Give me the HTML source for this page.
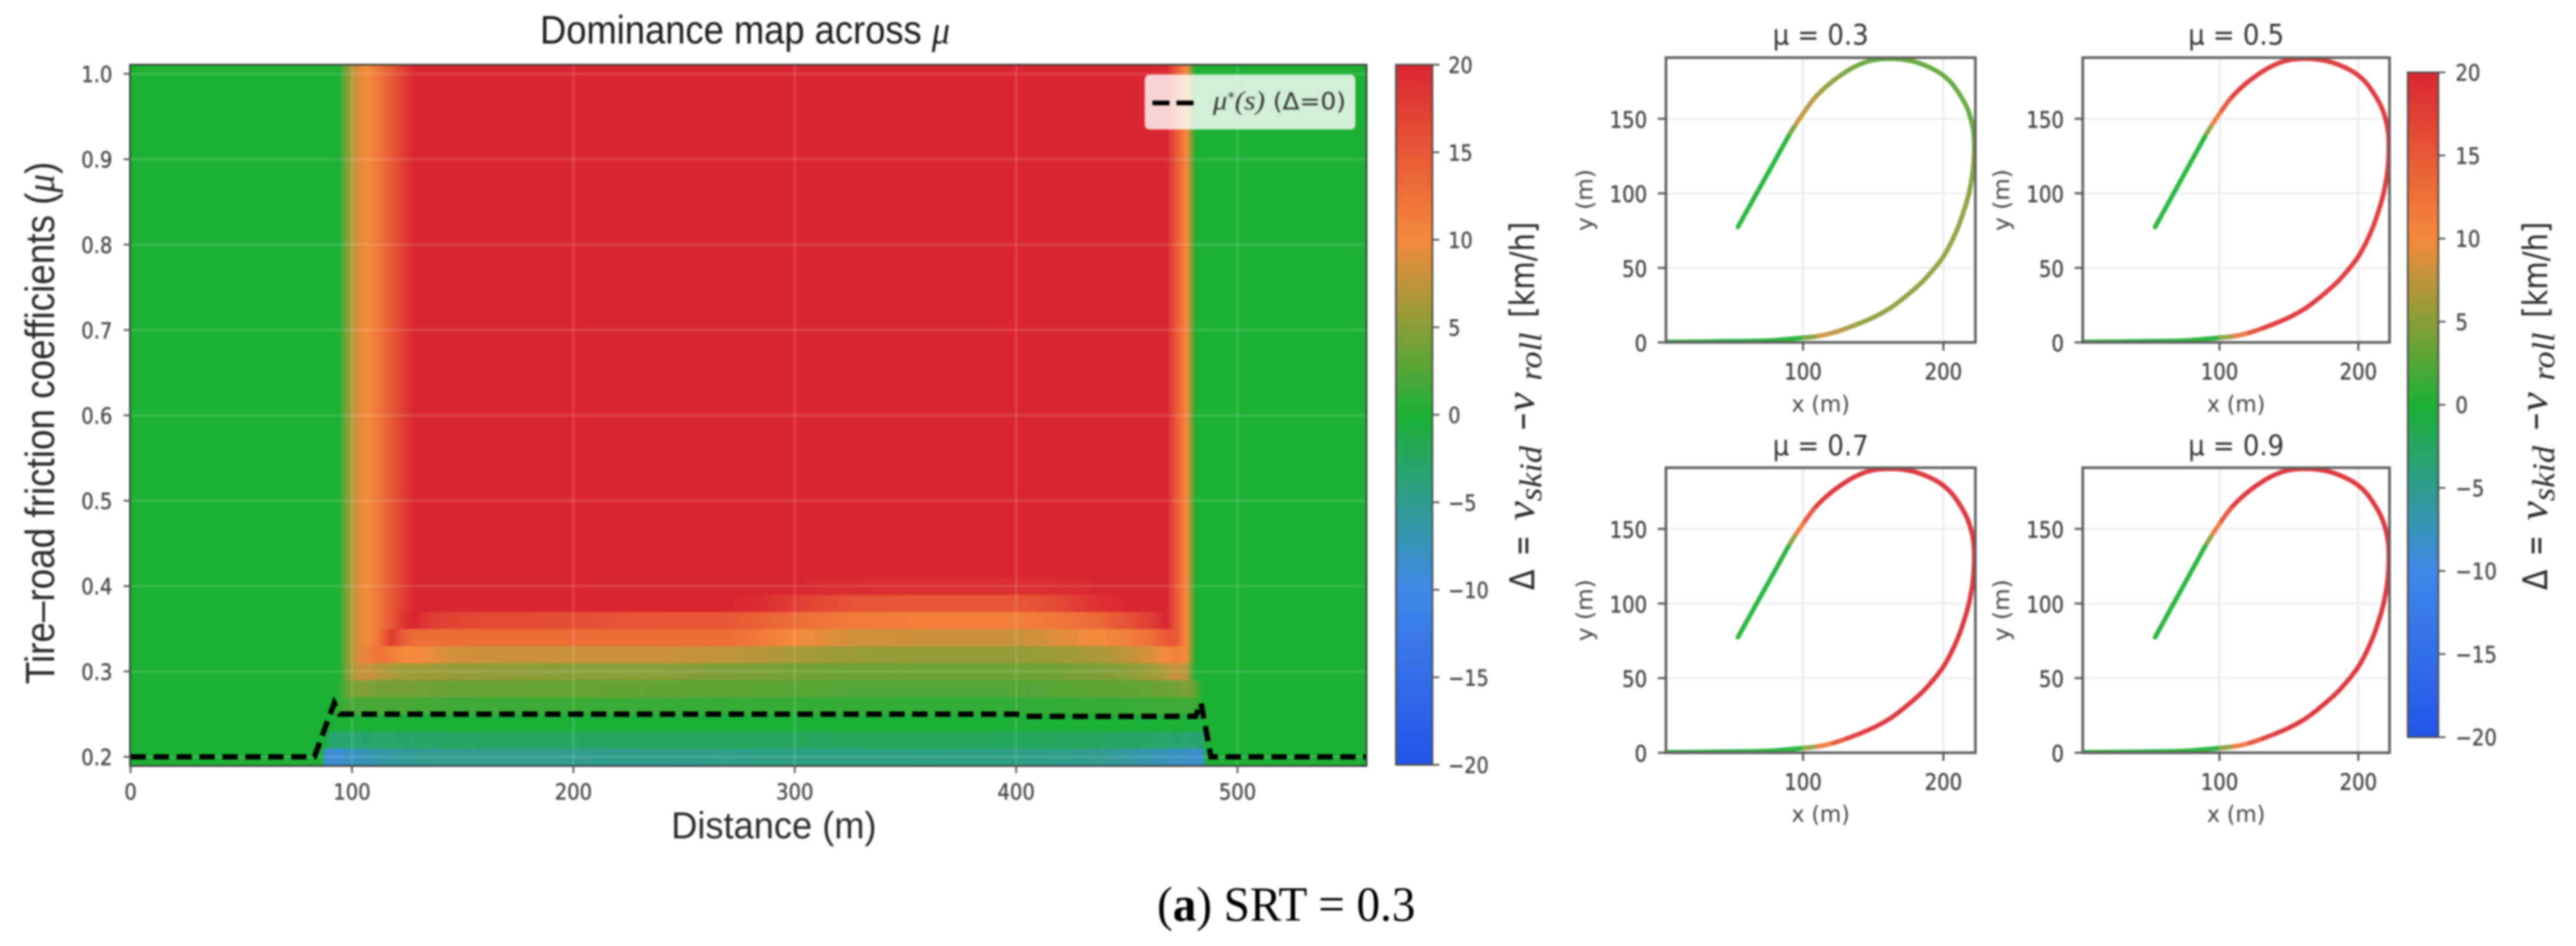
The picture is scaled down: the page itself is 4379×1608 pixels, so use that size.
<!DOCTYPE html>
<html lang="en">
<head>
<meta charset="utf-8">
<title>Dominance map across mu</title>
<style>
html,body{margin:0;padding:0;background:#fff;width:4379px;height:1608px;overflow:hidden}
svg{display:block;filter:blur(1.5px)}
text{font-family:"DejaVu Sans","Liberation Sans",sans-serif}
.ar{font-family:"Liberation Sans",sans-serif}
.se{font-family:"Liberation Serif",serif}
</style>
</head>
<body>
<svg id="fig" xmlns="http://www.w3.org/2000/svg" width="4379" height="1608" viewBox="0 0 4379 1608">
  <defs id="defs"></defs>
  <rect width="4379" height="1608" fill="#fff"/>
  <g id="heatmap"></g>
  <g id="heat-grid"></g>
  <g id="mu-line-layer"></g>
  <g id="heat-axes"></g>
  <g id="cb1"></g>
  <g id="panels"></g>
  <g id="cb2"></g>

  <text class="ar" x="918" y="74" font-size="68" fill="#1c1c1c" textLength="697" lengthAdjust="spacingAndGlyphs">Dominance map across <tspan class="se" font-style="italic">μ</tspan></text>
  <text class="ar" transform="translate(92,1163) rotate(-90)" font-size="70" fill="#2a2a2a" textLength="888" lengthAdjust="spacingAndGlyphs">Tire–road friction coefficients (<tspan class="se" font-style="italic">μ</tspan>)</text>
  <text class="ar" x="1141" y="1425" font-size="64" fill="#2a2a2a" textLength="349" lengthAdjust="spacingAndGlyphs">Distance (m)</text>

  <g>
    <rect x="1946" y="127" width="358" height="93" rx="8" fill="#fff" fill-opacity="0.8"/>
    <line x1="1959" y1="175" x2="2029" y2="175" stroke="#000" stroke-width="8" stroke-dasharray="29 12"/>
    <text x="2062" y="186" font-size="40" fill="#333" textLength="226" lengthAdjust="spacingAndGlyphs"><tspan class="se" font-style="italic" font-size="46">μ</tspan><tspan dy="-12" font-size="24">*</tspan><tspan dy="12" class="se" font-style="italic" font-size="46">(s)</tspan> (Δ=0)</text>
  </g>

  <text class="se" x="1967" y="1565" font-size="84" fill="#000" textLength="439" lengthAdjust="spacingAndGlyphs">(<tspan font-weight="bold">a</tspan>) SRT = 0.3</text>
</svg>
<script>
/* ---------- heatmap data ---------- */
const distanceKnots = [0,86,88,90,92,94,98,102,107,112,118,124,128,135,145,160,200,240,270,285,300,325,360,400,420,437,450,462,468,472,477,481,484,486,558];
const rowHigh = [0,0,0,0,0,0,5,8.5,10,12,15,18,20,20,20,20,20,20,20,20,20,20,20,20,20,20,20,20,20,15,10,0,0,0,0];
const row040 = [0,0,0,0,0,0,5,8.5,10,12,15,18,20,20,20,20,20,20,20,20,20,19.5,19,19,19.5,20,20,20,20,15,10,0,0,0,0];
const row038 = [0,0,0,0,0,0,5,8.5,10,12,15,18,20,20,20,20,20,20,20,19.5,17.5,15.5,15,15,16.5,19,20,20,20,15,10,0,0,0,0];
const row036 = [0,0,0,0,0,0,5,8.5,10,12,15,19,20,18,17,16.5,16,15,15,14,13,11.5,11,11,12,13.5,15.5,18,20,15,10,0,0,0,0];
const row034 = [0,0,0,0,0,0,5,8.5,10,12,18,14,13,13,13,13,13,13,13,11.5,10,8.5,8,8,9,10,11,13,15,15,10,0,0,0,0];
const row032 = [0,0,0,0,0,0,5,8.5,11,12.5,11,10,10,9.5,8.5,8,8,8,7.5,7,6.5,5.7,5.5,5.5,6,6.5,7.5,9,10,11,10,0,0,0,0];
const row030 = [0,0,0,0,0,0,5,7.5,8,7,6.5,6,6,6,5.5,5.5,5,5,4.5,4.2,4,3.8,3.7,3.7,4,4.5,5,6,7,8,7,0,0,0,0];
const row028 = [0,0,0,0,0,0.5,3.5,4.5,4.5,4,4,4,4,3.8,3.6,3.5,3.5,3.3,3,2.9,2.8,2.5,2.5,2.5,2.7,3,3.2,3.5,3.8,4,4.5,3,0,0,0];
const row026 = [0,0,0,0,0,1,2,2,2,2,2,2,2,1.8,1.7,1.5,1.4,1.3,1.2,1.2,1.2,1.1,1,1,1.1,1.2,1.3,1.4,1.5,1.5,1.5,1.5,0,0,0];
const row024 = [0,0,0,0,-0.3,-0.3,-0.3,-0.3,-0.3,-0.3,-0.3,-0.3,-0.3,-0.3,-0.3,-0.3,-0.3,-0.3,-0.3,-0.3,-0.3,-0.3,-0.3,-0.3,-0.3,-0.3,-0.3,-0.3,-0.3,-0.3,-0.3,-0.3,-0.3,0,0];
const row022 = [0,0,0,-3.2,-3.2,-3.2,-3.2,-3.2,-3.1,-3,-3,-2.9,-2.8,-2.7,-2.6,-2.5,-2.5,-2.5,-2.5,-2.4,-2.4,-2.3,-2.3,-2.3,-2.4,-2.5,-2.6,-2.8,-3,-3.1,-3.2,-3.3,-3.3,0,0];
const row020 = [0,0,-8.5,-9,-9,-8.8,-8,-7.5,-7,-6.5,-6,-5.5,-5.3,-5,-5,-5,-5,-4.8,-4.6,-4.5,-4.5,-4.4,-4.3,-4.5,-4.7,-5,-6,-7,-7.5,-7.8,-8,-8.3,-8.5,0,0];
const muLevels = [0.20,0.22,0.24,0.26,0.28,0.30,0.32,0.34,0.36,0.38,0.40,0.42,0.44,0.46,0.48,0.50,0.52,0.54,0.56,0.58,0.60,0.62,0.64,0.66,0.68,0.70,0.72,0.74,0.76,0.78,0.80,0.82,0.84,0.86,0.88,0.90,0.92,0.94,0.96,0.98,1.00];
const deltaRows = [row020,row022,row024,row026,row028,row030,row032,row034,row036,row038,row040,rowHigh,rowHigh,rowHigh,rowHigh,rowHigh,rowHigh,rowHigh,rowHigh,rowHigh,rowHigh,rowHigh,rowHigh,rowHigh,rowHigh,rowHigh,rowHigh,rowHigh,rowHigh,rowHigh,rowHigh,rowHigh,rowHigh,rowHigh,rowHigh,rowHigh,rowHigh,rowHigh,rowHigh,rowHigh,rowHigh];
const muStarS = [0,83,92,94.5,200,300,400,404,481,483.5,488,558];
const muStarValues = [0.2,0.2,0.263,0.25,0.25,0.25,0.25,0.2475,0.2475,0.263,0.2,0.2];
const distanceTicks = [0,100,200,300,400,500];
const muTicks = [0.2,0.3,0.4,0.5,0.6,0.7,0.8,0.9,1.0];
const muTickLabels = ["0.2","0.3","0.4","0.5","0.6","0.7","0.8","0.9","1.0"];
const colorbarTicks = [-20,-15,-10,-5,0,5,10,15,20];
const colorbarLabels = ["−20","−15","−10","−5","0","5","10","15","20"];

/* ---------- trajectory data ---------- */
const trackX = [3,30,50,75,100.7,110.5,121.6,131.4,141.1,150.9,162.1,173.2,184.4,192.7,199.7,205.3,210.9,214.5,217.4,219.5,221,221.8,222,221.5,219.7,216.8,212.3,205.3,196.9,187.2,176,162.1,148.1,137,125.8,116,107.7,100,93.7,89.5,82,72,63,53.6];
const trackY = [0.3,0.5,0.8,1.2,3.2,4.2,6.5,9.6,13.1,17.1,23,30.9,40.1,48.7,57.2,66.5,78.3,88,97,106,115,124,132,141,149.5,157.5,165.3,174.5,181.1,185.7,189,190.3,189,185,178.5,171.2,163.3,153.4,144.6,138.1,125.4,108.5,93.3,77.4];
const deltaMu03 = [0,0,0,0,0,8,8,6.5,5.5,5,5,5,5,5,5,5,5,5,5,4.5,4.5,4.5,4,3.5,3,3,3,3,3,3,3,3,3,3.5,4.5,5.5,6.5,7.5,8,0,0,0,0,0];
const deltaMu05 = [0,0,0,0,0,10.5,15,18,19,19,19,19,19,19,19,19,19,19,19,19,19,19,19,19,19,19,19,19,19,19,19,19,19,19,19,19,18,14,10,0,0,0,0,0];
const deltaMu07 = [0,0,0,0,0,10,14,17.5,19,19.5,19.5,19.5,19.5,19.5,19.5,19.5,19.5,19.5,19.5,19.5,19.5,19.5,19.5,19.5,19.5,19.5,19.5,19.5,19.5,19.5,19.5,19.5,19.5,19.5,19.5,19.5,18,14,10,0,0,0,0,0];
const deltaMu09 = [0,0,0,0,0,10,14,17.5,19,19.5,19.5,19.5,19.5,19.5,19.5,19.5,19.5,19.5,19.5,19.5,19.5,19.5,19.5,19.5,19.5,19.5,19.5,19.5,19.5,19.5,19.5,19.5,19.5,19.5,19.5,19.5,18,14,10,0,0,0,0,0];
const panelTitles = ["μ = 0.3","μ = 0.5","μ = 0.7","μ = 0.9"];
const panelDeltas = [deltaMu03,deltaMu05,deltaMu07,deltaMu09];
const xTicksPanel = [100,200];
const yTicksPanel = [0,50,100,150];

/* ---------- helpers ---------- */
const NS = "http://www.w3.org/2000/svg";
const byId = id => document.getElementById(id);
function node(parent, tag, props, name) {
  const el = document.createElementNS(NS, tag);
  for (const k in props) el.setAttribute(k, props[k]);
  
  
  parent.appendChild(el);
  return el;
}
const cmapKeys = [-20,-10,0,10,20];
const cmapRgb = [[33,85,233],[64,136,232],[28,177,52],[245,138,59],[218,38,49]];
function cmap(v) {
  const d = Math.max(-20, Math.min(20, v));
  let i = 0;
  while (i < cmapKeys.length - 2 && d > cmapKeys[i + 1]) i++;
  const t = (d - cmapKeys[i]) / (cmapKeys[i + 1] - cmapKeys[i]);
  const c = cmapRgb[i].map((a, j) => Math.round(a + (cmapRgb[i + 1][j] - a) * t));
  return "rgb(" + c.join(",") + ")";
}
const glyphW = {".":0.318,"−":0.838," ":0.318};
function tickText(parent, x, y, str, size, squeeze, anchor, fill, name) {
  let w = 0;
  for (const ch of str) w += (glyphW[ch] || 0.636);
  const el = node(parent, "text", {x:x, y:y, "font-size":size, "text-anchor":anchor, fill:fill,
    stroke:fill, "stroke-width":0.7,
    textLength:(w * size * squeeze).toFixed(1), lengthAdjust:"spacingAndGlyphs"}, name);
  el.textContent = str;
  return el;
}

/* ---------- heatmap ---------- */
const heatBox = {left:222, right:2322, top:111, bottom:1301};
const sx = s => heatBox.left + (s - 0) / 558 * (heatBox.right - heatBox.left);
const sy = m => heatBox.bottom - (m - 0.19) / 0.82 * (heatBox.bottom - heatBox.top);
(function drawHeatmap() {
  const defs = byId("defs"), g = byId("heatmap");
  const span = distanceKnots[distanceKnots.length - 1];
  muLevels.forEach((mu, r) => {
    const gr = node(defs, "linearGradient", {id:"heat-row-" + r, gradientUnits:"userSpaceOnUse",
      x1:sx(0), y1:0, x2:sx(span), y2:0}, "heat-row-gradient");
    deltaRows[r].forEach((v, c) => {
      node(gr, "stop", {offset:(distanceKnots[c] / span).toFixed(5), "stop-color":cmap(v)}, "heat-row-stop");
    });
    const top = sy(mu + 0.01), bot = sy(mu - 0.01);
    node(g, "rect", {x:sx(0), y:top - 0.5, width:sx(span) - sx(0), height:bot - top + 1,
      fill:"url(#heat-row-" + r + ")"}, "heat-row-mu-" + mu.toFixed(2));
  });
  const grid = byId("heat-grid");
  distanceTicks.slice(1).forEach(t => {
    node(grid, "line", {x1:sx(t), x2:sx(t), y1:heatBox.top, y2:heatBox.bottom, stroke:"#fff", "stroke-opacity":0.13, "stroke-width":4}, "grid-line-x");
  });
  muTicks.forEach(t => {
    node(grid, "line", {x1:heatBox.left, x2:heatBox.right, y1:sy(t), y2:sy(t), stroke:"#fff", "stroke-opacity":0.13, "stroke-width":4}, "grid-line-y");
  });
  const pts = muStarS.map((s, i) => sx(s).toFixed(1) + "," + sy(muStarValues[i]).toFixed(1)).join(" ");
  node(byId("mu-line-layer"), "polyline", {points:pts, fill:"none", stroke:"#000", "stroke-width":9, "stroke-dasharray":"26 13"}, "mu-star-line");

  const ax = byId("heat-axes");
  node(ax, "rect", {x:heatBox.left - 1, y:heatBox.top - 1, width:heatBox.right - heatBox.left + 2, height:heatBox.bottom - heatBox.top + 2,
    fill:"none", stroke:"#3c3c3c", "stroke-width":3}, "heatmap-frame");
  distanceTicks.forEach(t => {
    node(ax, "line", {x1:sx(t), x2:sx(t), y1:heatBox.bottom, y2:heatBox.bottom + 13, stroke:"#555", "stroke-width":3}, "x-tick");
    tickText(ax, sx(t), 1359, String(t), 37, 0.9, "middle", "#4a4a4a", "x-tick-label");
  });
  muTicks.forEach((t, i) => {
    node(ax, "line", {x1:heatBox.left - 12, x2:heatBox.left, y1:sy(t), y2:sy(t), stroke:"#555", "stroke-width":3}, "y-tick");
    tickText(ax, 191, sy(t) + 14, muTickLabels[i], 37, 0.9, "end", "#4a4a4a", "y-tick-label");
  });
})();

/* ---------- colorbars ---------- */
function drawColorbar(gid, box, labelBaseX, labelX, tickFont) {
  const g = byId(gid), defs = byId("defs");
  const gr = node(defs, "linearGradient", {id:gid + "-grad", x1:0, y1:1, x2:0, y2:0}, "colorbar-gradient");
  colorbarTicks.forEach(v => {
    node(gr, "stop", {offset:(v + 20) / 40, "stop-color":cmap(v)}, "colorbar-stop");
  });
  node(g, "rect", {x:box.left, y:box.top, width:box.right - box.left, height:box.bottom - box.top,
    fill:"url(#" + gid + "-grad)", stroke:"#4d4d4d", "stroke-width":3}, "colorbar-bar");
  const y = d => box.top + (20 - d) / 40 * (box.bottom - box.top);
  colorbarTicks.forEach((t, i) => {
    node(g, "line", {x1:box.right, x2:box.right + 12, y1:y(t), y2:y(t), stroke:"#555", "stroke-width":3}, "colorbar-tick");
    tickText(g, labelX, y(t) + 14, colorbarLabels[i], tickFont, 0.88, "start", "#4a4a4a", "colorbar-tick-label");
  });
  const t = node(g, "g", {transform:"translate(" + labelBaseX + ",1003) rotate(-90)"}, "colorbar-title");
  const piece = (x, y0, str, size, len, cls, italic, name) => {
    const e = node(t, "text", {x:x, y:y0, "font-size":size, fill:"#2a2a2a", textLength:len, lengthAdjust:"spacingAndGlyphs"}, name);
    if (cls) e.setAttribute("class", cls);
    if (italic) e.setAttribute("font-style", "italic");
    e.textContent = str;
  };
  piece(0, 0, "Δ", 58, 35, "", false, "colorbar-title-delta");
  piece(58, 0, "=", 58, 35, "", false, "colorbar-title-equals");
  piece(118, 0, "v", 70, 33, "se", true, "colorbar-title-v-skid");
  piece(151, 12, "skid", 54, 94, "se", true, "colorbar-title-skid");
  piece(270, 0, "−", 58, 33, "", false, "colorbar-title-minus");
  piece(303, 0, "v", 70, 33, "se", true, "colorbar-title-v-roll");
  piece(356, 12, "roll", 54, 82, "se", true, "colorbar-title-roll");
  piece(463, 0, "[km/h]", 58, 163, "", false, "colorbar-title-units");
}
drawColorbar("cb1", {left:2373, right:2435, top:110, bottom:1300}, 2608, 2462, 37);
drawColorbar("cb2", {left:4093, right:4145, top:123, bottom:1253}, 4330, 4174, 38);

/* ---------- trajectory panels ---------- */
const panelBoxes = [
  {left:2832, right:3358, top:98, bottom:582, x100:3065, x200:3303.6, titleY:76, xLabelY:700},
  {left:3540.5, right:4062, top:98, bottom:582, x100:3773, x200:4009, titleY:76, xLabelY:700},
  {left:2832, right:3358, top:795, bottom:1279.5, x100:3065, x200:3303.6, titleY:774, xLabelY:1397},
  {left:3540.5, right:4062, top:795, bottom:1279.5, x100:3773, x200:4009, titleY:774, xLabelY:1397}
];
panelBoxes.forEach((b, p) => {
  const root = byId("panels");
  const g = node(root, "g", {}, "panel-mu-" + ["03","05","07","09"][p]);
  const px = v => b.x100 + (v - 100) * (b.x200 - b.x100) / 100;
  const py = v => b.bottom - v * (b.bottom - b.top) / 191;
  const clipId = "panel-clip-" + p;
  const clip = node(byId("defs"), "clipPath", {id:clipId}, "panel-clip");
  node(clip, "rect", {x:b.left, y:b.top, width:b.right - b.left, height:b.bottom - b.top}, "panel-clip-rect");

  xTicksPanel.forEach(t => {
    node(g, "line", {x1:px(t), x2:px(t), y1:b.top, y2:b.bottom, stroke:"#e9e9e9", "stroke-width":3}, "panel-grid-x");
  });
  yTicksPanel.slice(1).forEach(t => {
    node(g, "line", {x1:b.left, x2:b.right, y1:py(t), y2:py(t), stroke:"#ececec", "stroke-width":3}, "panel-grid-y");
  });

  const line = node(g, "g", {"clip-path":"url(#" + clipId + ")", opacity:0.92}, "trajectory-line");
  const pts = trackX.map((x, i) => [px(x), py(trackY[i])]);
  const vals = panelDeltas[p];
  for (let i = 0; i < pts.length - 1; i++) {
    const p0 = pts[i - 1] || pts[i], p1 = pts[i], p2 = pts[i + 1], p3 = pts[i + 2] || pts[i + 1];
    const c1 = [p1[0] + (p2[0] - p0[0]) / 6, p1[1] + (p2[1] - p0[1]) / 6];
    const c2 = [p2[0] - (p3[0] - p1[0]) / 6, p2[1] - (p3[1] - p1[1]) / 6];
    const d = "M" + p1.map(n => n.toFixed(1)) + "C" + c1.map(n => n.toFixed(1)) + " " + c2.map(n => n.toFixed(1)) + " " + p2.map(n => n.toFixed(1));
    node(line, "path", {d:d, fill:"none", stroke:cmap((vals[i] + vals[i + 1]) / 2), "stroke-width":8, "stroke-linecap":"round"}, "trajectory-segment");
  }

  node(g, "rect", {x:b.left, y:b.top, width:b.right - b.left, height:b.bottom - b.top, fill:"none", stroke:"#5e5e5e", "stroke-width":4.5}, "panel-frame");
  xTicksPanel.forEach(t => {
    node(g, "line", {x1:px(t), x2:px(t), y1:b.bottom, y2:b.bottom + 14, stroke:"#555", "stroke-width":3.5}, "panel-x-tick");
    tickText(g, px(t), b.bottom + 63, String(t), 38, 0.88, "middle", "#444", "panel-x-tick-label");
  });
  yTicksPanel.forEach(t => {
    node(g, "line", {x1:b.left - 14, x2:b.left, y1:py(t), y2:py(t), stroke:"#555", "stroke-width":3.5}, "panel-y-tick");
    tickText(g, b.left - 32, py(t) + 15, String(t), 38, 0.88, "end", "#444", "panel-y-tick-label");
  });
  const cx = (b.left + b.right) / 2;
  const title = node(g, "text", {x:cx, y:b.titleY, "font-size":48, "text-anchor":"middle", fill:"#333", textLength:163, lengthAdjust:"spacingAndGlyphs"}, "panel-title");
  title.textContent = panelTitles[p];
  const xl = node(g, "text", {x:cx, y:b.xLabelY, "font-size":38, "text-anchor":"middle", fill:"#444", textLength:99, lengthAdjust:"spacingAndGlyphs"}, "panel-x-axis-title");
  xl.textContent = "x (m)";
  const yl = node(g, "text", {transform:"translate(" + (b.left - 125) + "," + ((b.top + b.bottom) / 2) + ") rotate(-90)", "font-size":38, "text-anchor":"middle", fill:"#444", textLength:105, lengthAdjust:"spacingAndGlyphs"}, "panel-y-axis-title");
  yl.textContent = "y (m)";
});
</script>
</body>
</html>
